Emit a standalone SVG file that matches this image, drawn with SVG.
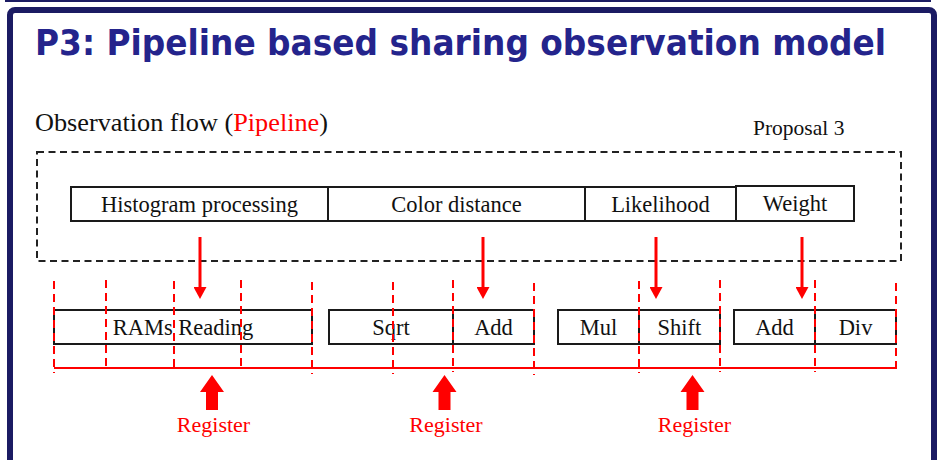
<svg xmlns="http://www.w3.org/2000/svg" width="943" height="460" viewBox="0 0 943 460">
  <style>
    .title { font-family: "DejaVu Sans", Verdana, sans-serif; font-weight: bold; font-size: 35px; fill: #24248c; }
    .serif { font-family: "Liberation Serif", "Times New Roman", serif; fill: #111; }
    .lbl { font-size: 22.5px; text-anchor: middle; }
    .red { fill: #ff0000; }
    .box { fill: #ffffff; stroke: #1a1a1a; stroke-width: 2; }
    .group { fill: none; stroke: #222; stroke-width: 2; stroke-dasharray: 7 4.5; }
    .stage { stroke: #ff0000; stroke-width: 2; stroke-dasharray: 8 5; }
    .flow { stroke: #ff0000; stroke-width: 3; fill: none; }
  </style>
  <defs>
    <!-- arrowhead drawn along +x; its base sits on the line end -->
    <marker id="down" viewBox="0 0 12 13" refX="0" refY="6.5" markerWidth="12" markerHeight="13" markerUnits="userSpaceOnUse" orient="auto">
      <path d="M0,0 L12,6.5 L0,13 Z" fill="#ff0000"/>
    </marker>
    <path id="reg" d="M0,0 L12,17 L6,17 L6,35 L-6,35 L-6,17 L-12,17 Z" fill="#ff0000"/>
  </defs>

  <rect width="943" height="460" fill="#ffffff"/>
  <!-- slide edge and frame -->
  <rect x="5" y="0" width="926" height="2" fill="#1b1b63"/>
  <rect x="10" y="10" width="924" height="470" rx="5" fill="none" stroke="#1b1b63" stroke-width="6"/>

  <text class="title" x="35" y="55" textLength="851" lengthAdjust="spacingAndGlyphs">P3: Pipeline based sharing observation model</text>

  <text class="serif" x="35" y="130.5" font-size="26" textLength="293" lengthAdjust="spacingAndGlyphs">Observation flow (<tspan class="red">Pipeline</tspan>)</text>
  <text class="serif" x="753" y="135" font-size="21.5">Proposal 3</text>

  <!-- observation stage group -->
  <g id="observation-group">
    <rect class="group" x="37" y="152" width="864" height="109"/>
  </g>

  <g id="histogram-processing">
    <rect class="box" x="71" y="187" width="257" height="34"/>
    <text class="serif lbl" x="199.5" y="211.5">Histogram processing</text>
  </g>
  <g id="color-distance">
    <rect class="box" x="328" y="187" width="257" height="34"/>
    <text class="serif lbl" x="456.5" y="211.5">Color distance</text>
  </g>
  <g id="likelihood">
    <rect class="box" x="585" y="187" width="151" height="34"/>
    <text class="serif lbl" x="660.5" y="211.5">Likelihood</text>
  </g>
  <g id="weight">
    <rect class="box" x="736" y="186" width="118" height="35"/>
    <text class="serif lbl" x="795" y="211">Weight</text>
  </g>

  <!-- pipeline operators -->
  <g id="rams-reading">
    <rect class="box" x="54" y="310" width="258" height="34"/>
    <text class="serif lbl" x="183" y="335">RAMs Reading</text>
  </g>
  <g id="sqrt">
    <rect class="box" x="329" y="310" width="124" height="34"/>
    <text class="serif lbl" x="391" y="335">Sqrt</text>
  </g>
  <g id="add-1">
    <rect class="box" x="453" y="310" width="81" height="34"/>
    <text class="serif lbl" x="493.5" y="335">Add</text>
  </g>
  <g id="mul">
    <rect class="box" x="558" y="310" width="81" height="34"/>
    <text class="serif lbl" x="598.5" y="335">Mul</text>
  </g>
  <g id="shift">
    <rect class="box" x="639" y="310" width="81" height="34"/>
    <text class="serif lbl" x="679.5" y="335">Shift</text>
  </g>
  <g id="add-2">
    <rect class="box" x="734" y="310" width="81" height="34"/>
    <text class="serif lbl" x="774.5" y="335">Add</text>
  </g>
  <g id="div">
    <rect class="box" x="815" y="310" width="81" height="34"/>
    <text class="serif lbl" x="855.5" y="335">Div</text>
  </g>

  <!-- register boundaries -->
  <g id="registers">
    <line class="stage" x1="54" y1="281" x2="54" y2="373"/>
    <line class="stage" x1="106" y1="280" x2="106" y2="371"/>
    <line class="stage" x1="174" y1="281" x2="174" y2="372"/>
    <line class="stage" x1="241" y1="280" x2="241" y2="371"/>
    <line class="stage" x1="312" y1="282" x2="312" y2="374"/>
    <line class="stage" x1="393" y1="282" x2="393" y2="374"/>
    <line class="stage" x1="453" y1="280" x2="453" y2="372"/>
    <line class="stage" x1="534" y1="283" x2="534" y2="375"/>
    <line class="stage" x1="639" y1="281" x2="639" y2="373"/>
    <line class="stage" x1="720" y1="280" x2="720" y2="372"/>
    <line class="stage" x1="815" y1="280" x2="815" y2="372"/>
    <line class="stage" x1="896" y1="283" x2="896" y2="374"/>
    <line x1="54" y1="368" x2="896" y2="368" stroke="#ff0000" stroke-width="2"/>
    <use href="#reg" x="212" y="375"/>
    <use href="#reg" x="444.5" y="375"/>
    <use href="#reg" x="692.5" y="375"/>
    <text class="serif red" x="213.5" y="432" font-size="22" text-anchor="middle">Register</text>
    <text class="serif red" x="446" y="432" font-size="22" text-anchor="middle">Register</text>
    <text class="serif red" x="694.5" y="432" font-size="22" text-anchor="middle">Register</text>
  </g>

  <!-- mapping of stages onto operators -->
  <g id="connectors">
    <line class="flow" x1="200" y1="237" x2="200" y2="287" marker-end="url(#down)"/>
    <line class="flow" x1="483" y1="237" x2="483" y2="287" marker-end="url(#down)"/>
    <line class="flow" x1="656" y1="237" x2="656" y2="287" marker-end="url(#down)"/>
    <line class="flow" x1="802" y1="237" x2="802" y2="287" marker-end="url(#down)"/>
  </g>
</svg>
